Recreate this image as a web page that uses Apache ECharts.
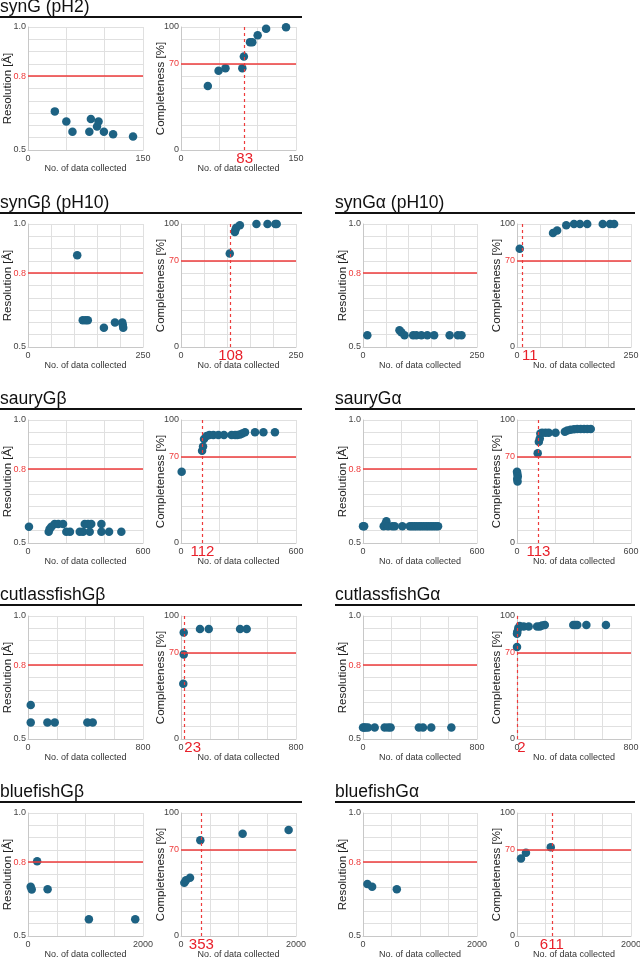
<!DOCTYPE html>
<html>
<head>
<meta charset="utf-8">
<script src="https://cdn.jsdelivr.net/npm/echarts@6/dist/echarts.min.js"></script>
<style>
html, body { margin: 0; padding: 0; background: #fff; }
#main { width: 640px; height: 960px; }
</style>
</head>
<body>
<div id="main"></div>
<script>
// --- data ---
var synG_pH2_resX = [35, 50, 58, 80, 82, 90, 92, 99, 111, 137];
var synG_pH2_res = [0.657, 0.616, 0.574, 0.574, 0.626, 0.596, 0.616, 0.574, 0.564, 0.555];
var synG_pH2_compX = [35, 49, 58, 80, 82, 90, 93, 100, 111, 137];
var synG_pH2_comp = [52, 64.5, 66.4, 66.4, 76, 87.7, 87.7, 93.2, 98.6, 99.7];

var synGb_pH10_resX = [107, 119, 125, 130, 165, 189, 205, 206, 207];
var synGb_pH10_res = [0.873, 0.609, 0.609, 0.609, 0.578, 0.6, 0.6, 0.59, 0.578];
var synGb_pH10_compX = [106, 117, 118, 120, 128, 164, 188, 205, 208];
var synGb_pH10_comp = [76, 93.5, 95, 97, 99, 100, 100, 100, 100];

var synGa_pH10_resX = [9.5, 80, 84, 91, 110, 117, 128, 141, 156, 190, 208, 216];
var synGa_pH10_res = [0.548, 0.568, 0.56, 0.548, 0.548, 0.548, 0.548, 0.548, 0.548, 0.548, 0.548, 0.548];
var synGa_pH10_compX = [6, 79, 88, 108, 125, 138, 154, 188, 204, 213];
var synGa_pH10_comp = [79.8, 92.6, 94.8, 98.9, 100, 100, 100, 100, 100, 100];

var sauryGb_resX = [5, 108, 113, 122, 139, 158, 183, 200, 219, 270, 287, 296, 313, 322, 330, 383, 383, 423, 487];
var sauryGb_res = [0.566, 0.546, 0.557, 0.566, 0.577, 0.577, 0.577, 0.546, 0.546, 0.546, 0.546, 0.577, 0.577, 0.546, 0.577, 0.577, 0.546, 0.546, 0.546];
var sauryGb_compX = [3.5, 110, 115, 120, 134, 148, 169, 195, 224, 264, 282, 294, 308, 320, 334, 386, 430, 490];
var sauryGb_comp = [58, 75, 78.4, 84.6, 87, 87.8, 87.8, 87.8, 87.8, 87.8, 87.8, 87.8, 88.3, 89, 90, 90, 90, 90];

var sauryGa_resX = [0, 6, 109, 118, 123, 132, 154, 167, 207, 246, 258, 270, 282, 295, 307, 320, 333, 345, 358, 370, 383, 395];
var sauryGa_res = [0.568, 0.568, 0.568, 0.578, 0.588, 0.568, 0.568, 0.568, 0.568, 0.568, 0.568, 0.568, 0.568, 0.568, 0.568, 0.568, 0.568, 0.568, 0.568, 0.568, 0.568, 0.568];
var sauryGa_compX = [0, 2, 4, 1, 3, 109, 115, 120, 123, 132, 150, 167, 203, 252, 265, 282, 300, 317, 335, 353, 370, 388];
var sauryGa_comp = [58, 56, 54, 52, 50, 73, 82.4, 85, 89, 89.7, 89.7, 89.7, 89.7, 90.5, 91.4, 92, 92.4, 92.7, 92.7, 92.7, 92.7, 92.7];

var cutlassGb_resX = [19, 19, 135, 186, 413, 450];
var cutlassGb_res = [0.638, 0.567, 0.567, 0.567, 0.567, 0.567];
var cutlassGb_compX = [19, 19, 16, 132, 193, 411, 457];
var cutlassGb_comp = [86.6, 68.8, 45, 89.5, 89.5, 89.5, 89.5];

var cutlassGa_resX = [0, 8, 19, 35, 82, 152, 176, 194, 392, 421, 479, 620];
var cutlassGa_res = [0.547, 0.547, 0.547, 0.547, 0.547, 0.547, 0.547, 0.547, 0.547, 0.547, 0.547, 0.547];
var cutlassGa_compX = [0, 0, 2, 9, 19, 47, 82, 141, 160, 176, 195, 395, 410, 423, 487, 624];
var cutlassGa_comp = [74.7, 85.5, 87, 90, 91.9, 91.4, 91.4, 91.4, 91.4, 92.2, 92.7, 92.7, 92.7, 92.7, 92.7, 92.7];

var bluefishGb_resX = [47, 65, 159, 341, 1059, 1865];
var bluefishGb_res = [0.7, 0.689, 0.804, 0.69, 0.568, 0.568];
var bluefishGb_compX = [58, 87, 157, 336, 1072, 1872];
var bluefishGb_comp = [43.2, 45.4, 47.3, 77.8, 83.2, 86.2];

var bluefishGa_resX = [77, 160, 593];
var bluefishGa_res = [0.711, 0.7, 0.69];
var bluefishGa_compX = [70, 157, 592];
var bluefishGa_comp = [63, 67.6, 72.2];

var titles = ['synG (pH2)', 'synGβ (pH10)', 'synGα (pH10)', 'sauryGβ', 'sauryGα',
    'cutlassfishGβ', 'cutlassfishGα', 'bluefishGβ', 'bluefishGα'];
var xMaxes = [150, 250, 250, 600, 600, 800, 800, 2000, 2000];
var xSteps = [50, 50, 50, 200, 200, 200, 200, 500, 500];
var markers = [83, 108, 11, 112, 113, 23, 2, 353, 611];
var resThreshold = 0.8;
var compThreshold = 70;

// --- layout ---
var RED = '#ee3b3b';
var DOT = '#1d6283';
var GRIDC = '#e0e0e0';
var FONT = 'Liberation Sans, Arial, sans-serif';
var rowTop = [27, 224, 420, 616, 813];
var underlineY = [17, 213, 409, 605, 802];
var plotH = 123;
var cols = [
    {res: 28, comp: 181, w: 115, x1: 0, x2: 302},
    {res: 363, comp: 517, w: 114, x1: 335, x2: 635}
];
var panels = [
    {row: 0, col: 0, resX: synG_pH2_resX, res: synG_pH2_res, compX: synG_pH2_compX, comp: synG_pH2_comp},
    {row: 1, col: 0, resX: synGb_pH10_resX, res: synGb_pH10_res, compX: synGb_pH10_compX, comp: synGb_pH10_comp},
    {row: 1, col: 1, resX: synGa_pH10_resX, res: synGa_pH10_res, compX: synGa_pH10_compX, comp: synGa_pH10_comp},
    {row: 2, col: 0, resX: sauryGb_resX, res: sauryGb_res, compX: sauryGb_compX, comp: sauryGb_comp},
    {row: 2, col: 1, resX: sauryGa_resX, res: sauryGa_res, compX: sauryGa_compX, comp: sauryGa_comp},
    {row: 3, col: 0, resX: cutlassGb_resX, res: cutlassGb_res, compX: cutlassGb_compX, comp: cutlassGb_comp},
    {row: 3, col: 1, resX: cutlassGa_resX, res: cutlassGa_res, compX: cutlassGa_compX, comp: cutlassGa_comp},
    {row: 4, col: 0, resX: bluefishGb_resX, res: bluefishGb_res, compX: bluefishGb_compX, comp: bluefishGb_comp},
    {row: 4, col: 1, resX: bluefishGa_resX, res: bluefishGa_res, compX: bluefishGa_compX, comp: bluefishGa_comp}
];

function zip(xs, ys) {
    return xs.map(function (x, i) { return [x, ys[i]]; });
}

var grids = [], xAxes = [], yAxes = [], series = [], graphics = [];

function addXAxis(gi, max, step) {
    xAxes.push({
        gridIndex: gi, type: 'value', min: 0, max: max, interval: step,
        name: 'No. of data collected', nameLocation: 'middle', nameGap: 14,
        nameMoveOverlap: false,
        nameTextStyle: {fontFamily: FONT, fontSize: 9, color: '#333'},
        axisLine: {show: true, lineStyle: {color: '#c8c8c8', width: 1}},
        axisTick: {show: false},
        splitLine: {show: true, lineStyle: {color: GRIDC, width: 1}},
        axisLabel: {
            fontFamily: FONT, fontSize: 9, color: '#444', margin: 4,
            formatter: function (v) { return (v === 0 || v === max) ? String(v) : ''; }
        }
    });
}

panels.forEach(function (p, i) {
    var c = cols[p.col];
    var top = rowTop[p.row];
    var xMax = xMaxes[i];

    // resolution plot
    var gi = grids.length;
    grids.push({left: c.res, top: top, width: c.w, height: plotH, containLabel: false, outerBoundsMode: 'none'});
    addXAxis(gi, xMax, xSteps[i]);
    yAxes.push({
        gridIndex: gi, type: 'value', min: 0.5, max: 1.0, interval: 0.05,
        name: 'Resolution [Å]', nameLocation: 'middle', nameGap: 14,
        nameMoveOverlap: false,
        nameTextStyle: {fontFamily: FONT, fontSize: 11.5, color: '#222'},
        axisLine: {show: true, lineStyle: {color: '#c8c8c8', width: 1}},
        axisTick: {show: false},
        splitLine: {show: true, lineStyle: {color: GRIDC, width: 1}},
        axisLabel: {
            fontFamily: FONT, fontSize: 9, color: '#444', margin: 2,
            formatter: function (v) {
                if (Math.abs(v - resThreshold) < 1e-6) return '{r|' + resThreshold.toFixed(1) + '}';
                if (Math.abs(v - 0.5) < 1e-6 || Math.abs(v - 1) < 1e-6) return v.toFixed(1);
                return '';
            },
            rich: {r: {color: RED, fontSize: 9, fontFamily: FONT}}
        }
    });
    series.push({
        type: 'scatter', xAxisIndex: gi, yAxisIndex: gi,
        data: zip(p.resX, p.res),
        symbolSize: 8.5, itemStyle: {color: DOT, opacity: 1},
        markLine: {
            silent: true, symbol: 'none', animation: false,
            lineStyle: {color: RED, type: 'solid', width: 1.5},
            label: {show: false},
            data: [{yAxis: resThreshold}]
        }
    });

    // completeness plot
    gi = grids.length;
    grids.push({left: c.comp, top: top, width: c.w, height: plotH, containLabel: false, outerBoundsMode: 'none'});
    addXAxis(gi, xMax, xSteps[i]);
    yAxes.push({
        gridIndex: gi, type: 'value', min: 0, max: 100, interval: 10,
        name: 'Completeness [%]', nameLocation: 'middle', nameGap: 14,
        nameMoveOverlap: false,
        nameTextStyle: {fontFamily: FONT, fontSize: 11.5, color: '#222'},
        axisLine: {show: true, lineStyle: {color: '#c8c8c8', width: 1}},
        axisTick: {show: false},
        splitLine: {show: true, lineStyle: {color: GRIDC, width: 1}},
        axisLabel: {
            fontFamily: FONT, fontSize: 9, color: '#444', margin: 2,
            formatter: function (v) {
                if (v === compThreshold) return '{r|' + v + '}';
                if (v === 0 || v === 100) return String(v);
                return '';
            },
            rich: {r: {color: RED, fontSize: 9, fontFamily: FONT}}
        }
    });
    var m = markers[i];
    var nearEdge = m / xMax * c.w < 12;
    series.push({
        type: 'scatter', xAxisIndex: gi, yAxisIndex: gi,
        data: zip(p.compX, p.comp),
        symbolSize: 8.5, itemStyle: {color: DOT, opacity: 1},
        markLine: {
            silent: true, symbol: 'none', animation: false,
            data: [
                {yAxis: compThreshold, lineStyle: {color: RED, type: 'solid', width: 1.5}, label: {show: false}},
                {
                    xAxis: m, lineStyle: {color: RED, type: [3, 3], width: 1.2},
                    label: {
                        show: true, position: 'start', distance: 1,
                        formatter: String(m), color: '#e8202a', fontSize: 15, fontFamily: FONT,
                        align: nearEdge ? 'left' : 'center'
                    }
                }
            ]
        }
    });

    // section title + underline
    var uy = underlineY[p.row];
    graphics.push({
        type: 'text', x: c.x1, y: uy - 1, silent: true,
        style: {text: titles[i], font: '17.5px ' + FONT, fill: '#111', verticalAlign: 'bottom'}
    });
    graphics.push({
        type: 'line', silent: true,
        shape: {x1: c.x1, y1: uy, x2: c.x2, y2: uy},
        style: {stroke: '#111', lineWidth: 2}
    });
});

var chart = echarts.init(document.getElementById('main'), null, {renderer: 'canvas'});
chart.setOption({
    backgroundColor: '#fff',
    animation: false,
    grid: grids,
    xAxis: xAxes,
    yAxis: yAxes,
    series: series,
    graphic: graphics
});
</script>
</body>
</html>
